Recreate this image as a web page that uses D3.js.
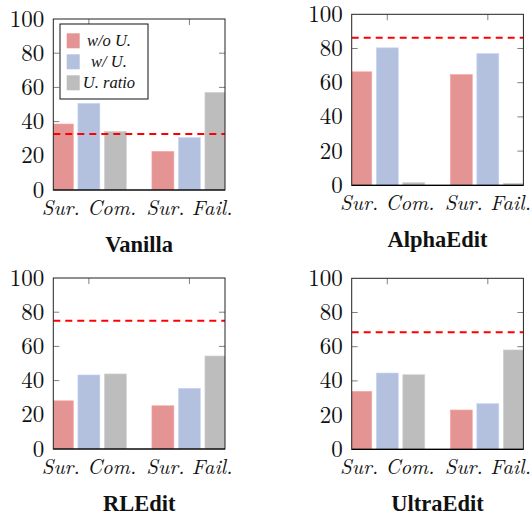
<!DOCTYPE html>
<html>
<head>
<meta charset="utf-8">
<script src="https://cdn.jsdelivr.net/npm/d3@7"></script>
<style>
  body { margin: 0; background: #fff; }
</style>
</head>
<body>
<svg id="chart" width="530" height="518"></svg>
<script>
// data
const methods = ["Vanilla", "AlphaEdit", "RLEdit", "UltraEdit"];
const groups = ["Sur. Com.", "Sur. Fail."];
const series = ["w/o U.", "w/ U.", "U. ratio"];
const vanillaValues = [[38.6, 50.7, 34.3], [22.6, 30.6, 57.1]];
const alphaEditValues = [[66.4, 80.4, 1.6], [64.8, 77.1, 1.2]];
const rlEditValues = [[28.2, 43.3, 43.9], [25.3, 35.5, 54.4]];
const ultraEditValues = [[33.9, 44.6, 43.6], [23.0, 26.7, 58.1]];
const thresholds = [32.7, 86.3, 75.0, 68.4];
const yTicks = [0, 20, 40, 60, 80, 100];

const allValues = [vanillaValues, alphaEditValues, rlEditValues, ultraEditValues];
const colors = ["#e59494", "#b3c1df", "#bdbdbd"];
const tickFont = '"Latin Modern Roman"';
const titleFont = '"Liberation Serif"';

// panel placement
const boxes = [
  { left: 53.3, top: 19 },
  { left: 351.7, top: 14.3 },
  { left: 53.3, top: 278 },
  { left: 351.7, top: 278.3 }
];
const width = 171.7;
const height = 171;

const svg = d3.select("#chart");

methods.forEach((method, m) => {
  const box = boxes[m];
  const g = svg.append("g")
    .attr("transform", `translate(${box.left},${box.top})`);

  const x0 = d3.scalePoint()
    .domain(groups)
    .range([0, width])
    .padding(0.354);

  const x1 = d3.scaleBand()
    .domain(series)
    .range([-37.5, 37.5])
    .paddingInner(0.17);

  const y = d3.scaleLinear()
    .domain([0, 100])
    .range([height, 0]);

  g.append("clipPath")
    .attr("id", `clip${m}`)
    .append("rect")
    .attr("width", width)
    .attr("height", height);

  const plot = g.append("g").attr("clip-path", `url(#clip${m})`);

  // inward ticks
  yTicks.slice(1, -1).forEach(t => {
    plot.append("line")
      .attr("x1", 0).attr("x2", 6)
      .attr("y1", y(t)).attr("y2", y(t))
      .attr("stroke", "#808080");
    plot.append("line")
      .attr("x1", width - 6).attr("x2", width)
      .attr("y1", y(t)).attr("y2", y(t))
      .attr("stroke", "#808080");
  });
  groups.forEach(gr => {
    plot.append("line")
      .attr("x1", x0(gr)).attr("x2", x0(gr))
      .attr("y1", 0).attr("y2", 6)
      .attr("stroke", "#808080");
  });

  groups.forEach((gr, gi) => {
    plot.selectAll(null)
      .data(series.map((s, si) => ({ s: s, v: allValues[m][gi][si], c: colors[si] })))
      .enter().append("rect")
      .attr("x", d => x0(gr) + x1(d.s))
      .attr("y", d => y(d.v))
      .attr("width", x1.bandwidth())
      .attr("height", d => height - y(d.v))
      .attr("fill", d => d.c)
      .attr("stroke", d => d3.color(d.c).brighter(0.3))
      .attr("stroke-width", 0.6);
  });

  // threshold line
  plot.append("line")
    .attr("x1", 0).attr("x2", width)
    .attr("y1", y(thresholds[m])).attr("y2", y(thresholds[m]))
    .attr("stroke", "#ff0000")
    .attr("stroke-width", 2)
    .attr("stroke-dasharray", "7,5");

  // axis frame
  g.append("rect")
    .attr("width", width)
    .attr("height", height)
    .attr("fill", "none")
    .attr("stroke", "#222")
    .attr("stroke-width", 1);

  g.append("line")
    .attr("x1", 0).attr("x2", width)
    .attr("y1", height).attr("y2", height)
    .attr("stroke", "#000")
    .attr("stroke-width", 1.2);

  // y tick labels
  g.selectAll(".ylab")
    .data(yTicks)
    .enter().append("text")
    .attr("x", -9)
    .attr("y", d => y(d))
    .attr("dy", "0.33em")
    .attr("text-anchor", "end")
    .attr("fill", "#111")
    .style("font-family", tickFont)
    .style("font-size", "23px")
    .text(d => d);

  // x tick labels
  g.selectAll(".xlab")
    .data(groups)
    .enter().append("text")
    .attr("x", d => x0(d))
    .attr("y", height + 25)
    .attr("text-anchor", "middle")
    .attr("fill", "#111")
    .style("font-family", tickFont)
    .style("font-size", "20.8px")
    .style("font-style", "italic")
    .text(d => d);

  // panel title
  g.append("text")
    .attr("x", width / 2)
    .attr("y", height + 62)
    .attr("text-anchor", "middle")
    .attr("fill", "#111")
    .style("font-family", titleFont)
    .style("font-size", "22.5px")
    .style("font-weight", "bold")
    .text(method);

  if (m === 0) {
    const legend = g.append("g").attr("transform", "translate(6.7,5)");
    legend.append("rect")
      .attr("width", 88)
      .attr("height", 75)
      .attr("fill", "#fff")
      .attr("stroke", "#111")
      .attr("stroke-width", 1);
    const rows = legend.selectAll(".row")
      .data(series)
      .enter().append("g")
      .attr("transform", (d, i) => `translate(0,${9.3 + i * 21})`);
    rows.append("rect")
      .attr("x", 6.7)
      .attr("width", 13)
      .attr("height", 15)
      .attr("fill", (d, i) => colors[i]);
    rows.append("text")
      .attr("x", 49)
      .attr("y", 7.5)
      .attr("dy", "0.34em")
      .attr("text-anchor", "middle")
      .attr("fill", "#111")
      .style("font-family", titleFont)
      .style("font-size", "16.5px")
      .style("font-style", "italic")
      .text(d => d);
  }
});
</script>
</body>
</html>
